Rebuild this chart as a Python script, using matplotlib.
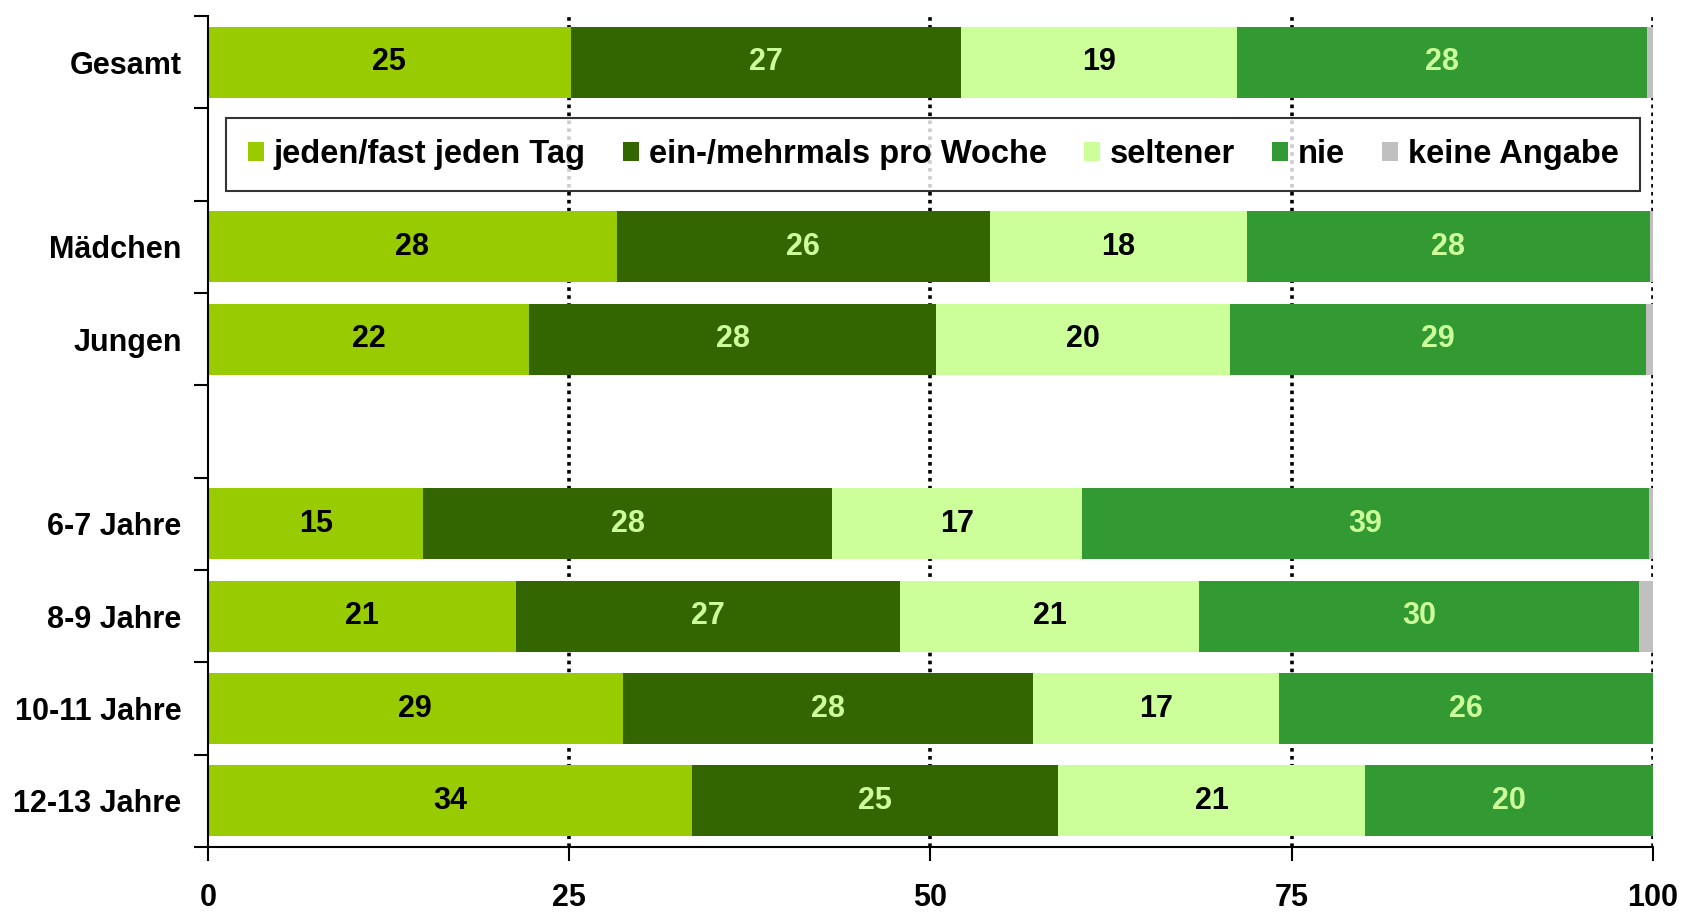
import matplotlib
matplotlib.use("Agg")
import matplotlib.pyplot as plt
import numpy as np

plt.rcParams['font.family'] = ['Liberation Sans', 'DejaVu Sans']
plt.rcParams['font.weight'] = 'bold'

# Rows from top to bottom, empty strings are spacer rows
categories = ['Gesamt', '', 'Mädchen', 'Jungen', '',
              '6-7 Jahre', '8-9 Jahre', '10-11 Jahre', '12-13 Jahre']

series_names = ['jeden/fast jeden Tag', 'ein-/mehrmals pro Woche',
                'seltener', 'nie', 'keine Angabe']
nan = np.nan
taeglich = [25.1, nan, 28.3, 22.2, nan, 14.9, 21.3, 28.7, 33.5]
woechentlich = [27.0, nan, 25.8, 28.2, nan, 28.3, 26.6, 28.4, 25.3]
seltener = [19.1, nan, 17.8, 20.3, nan, 17.3, 20.7, 17.0, 21.3]
nie = [28.4, nan, 27.9, 28.8, nan, 39.2, 30.4, 25.9, 19.9]
keine_angabe = [0.4, nan, 0.2, 0.5, nan, 0.3, 1.0, 0.0, 0.0]

colors = ['#99CC00', '#336600', '#CCFF99', '#339933', '#C0C0C0']
label_colors = ['black', '#CCFF99', 'black', '#CCFF99', None]

x_ticks = [0, 25, 50, 75, 100]

fig = plt.figure(figsize=(16.91, 9.14), dpi=100)
ax = fig.add_axes([0.123, 0.0733, 0.8545, 0.9092])

y = np.arange(len(categories))
left = np.zeros(len(categories))
all_series = [taeglich, woechentlich, seltener, nie, keine_angabe]
handles = []
for vals, col, tcol, name in zip(all_series, colors, label_colors, series_names):
    vals = np.array(vals, dtype=float)
    bars = ax.barh(y, vals, left=left, height=0.77, color=col, label=name, zorder=2)
    handles.append(bars)
    if tcol is not None:
        for yi, (l, v) in enumerate(zip(left, vals)):
            if not np.isnan(v) and v > 0:
                ax.text(l + v / 2, yi, f"{round(v):d}", ha='center', va='center',
                        fontsize=22, fontweight='bold', color=tcol, zorder=3)
    left = left + np.nan_to_num(vals)

ax.set_xlim(0, 100)
ax.set_ylim(len(categories) - 0.5, -0.5)

# dotted gridlines
for xv in x_ticks[1:]:
    ax.axvline(xv, color='black', lw=2.6, linestyle=(0, (1, 1.2)), zorder=1)

ax.set_yticks(y)
ax.set_yticklabels(categories, fontsize=22, fontweight='bold')
ax.set_yticks(np.arange(-0.5, len(categories), 1), minor=True)
ax.tick_params(axis='y', which='major', length=0, pad=19)
ax.tick_params(axis='y', which='minor', length=10, width=1.5, direction='out')

ax.set_xticks(x_ticks)
ax.set_xticklabels([str(t) for t in x_ticks], fontsize=22, fontweight='bold')
ax.tick_params(axis='x', length=10, width=1.5, direction='out', pad=16)

for s in ['top', 'right']:
    ax.spines[s].set_visible(False)
for s in ['left', 'bottom']:
    ax.spines[s].set_linewidth(1.5)
    ax.spines[s].set_zorder(4)

leg = ax.legend(handles=handles, loc='center', bbox_to_anchor=(0.502, 1 - 1.5 / 9),
                ncol=5, frameon=True, fancybox=False,
                handlelength=0.5, handleheight=0.5, handletextpad=0.3,
                columnspacing=1.13, borderpad=0.65, prop={'weight': 'bold', 'size': 23.5})
leg.get_frame().set_edgecolor('black')
leg.get_frame().set_linewidth(1.5)
leg.set_zorder(5)

fig.savefig('out.png', dpi=100)
